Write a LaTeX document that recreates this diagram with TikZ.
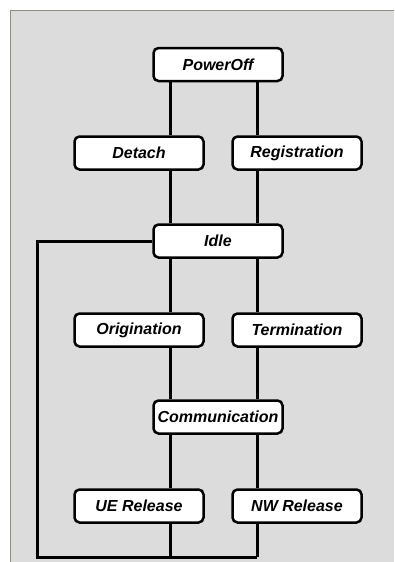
\documentclass[tikz,border=0pt]{standalone}
\usepackage{fontspec}
\setmainfont{Liberation Sans}
\definecolor{bggray}{HTML}{DCDCDC}
\definecolor{edgegray}{HTML}{8C9080}
\begin{document}
\begin{tikzpicture}[x=1pt,y=-1pt,
  state/.style={draw=black, fill=white, line width=2.5pt, rounded corners=5pt,
    minimum width=129pt, minimum height=33pt, inner sep=0pt,
    font=\fontsize{16}{18}\selectfont\bfseries\itshape},
  conn/.style={draw=black, line width=3pt}]
\useasboundingbox (0,0) rectangle (394,562);
\fill[white] (0,0) rectangle (394,562);
\fill[bggray] (10,10) rectangle (394,562);
\draw[edgegray, line width=1pt] (10,562) -- (10,10) -- (394,10);
% guide columns
\coordinate (L) at (170,0);
\coordinate (R) at (257,0);
\coordinate (bl) at (37,557);
\coordinate (br) at (257,557);
% nodes
\node[state] (poweroff) at (218,64.5) {PowerOff};
\node[state] (detach) at (139,153) {Detach};
\node[state] (reg) at (297,153) {Registration};
\node[state] (idle) at (218,241) {Idle};
\node[state] (orig) at (139,330) {Origination};
\node[state] (term) at (297,330) {Termination};
\node[state] (comm) at (218,417) {Communication};
\node[state] (uerel) at (139,506) {UE Release};
\node[state] (nwrel) at (297,506) {NW Release};
% connectors
\draw[conn] (poweroff.south -| L) -- (detach.north -| L);
\draw[conn] (poweroff.south -| R) -- (reg.north -| R);
\draw[conn] (detach.south -| L) -- (idle.north -| L);
\draw[conn] (reg.south -| R) -- (idle.north -| R);
\draw[conn] (idle.south -| L) -- (orig.north -| L);
\draw[conn] (idle.south -| R) -- (term.north -| R);
\draw[conn] (orig.south -| L) -- (comm.north -| L);
\draw[conn] (term.south -| R) -- (comm.north -| R);
\draw[conn] (comm.south -| L) -- (uerel.north -| L);
\draw[conn] (comm.south -| R) -- (nwrel.north -| R);
\draw[conn] (uerel.south -| L) -- (L |- bl);
\draw[conn] (nwrel.south -| R) -- (br);
\draw[conn] (idle.west) -| (bl) -- (br);
\end{tikzpicture}
\end{document}
